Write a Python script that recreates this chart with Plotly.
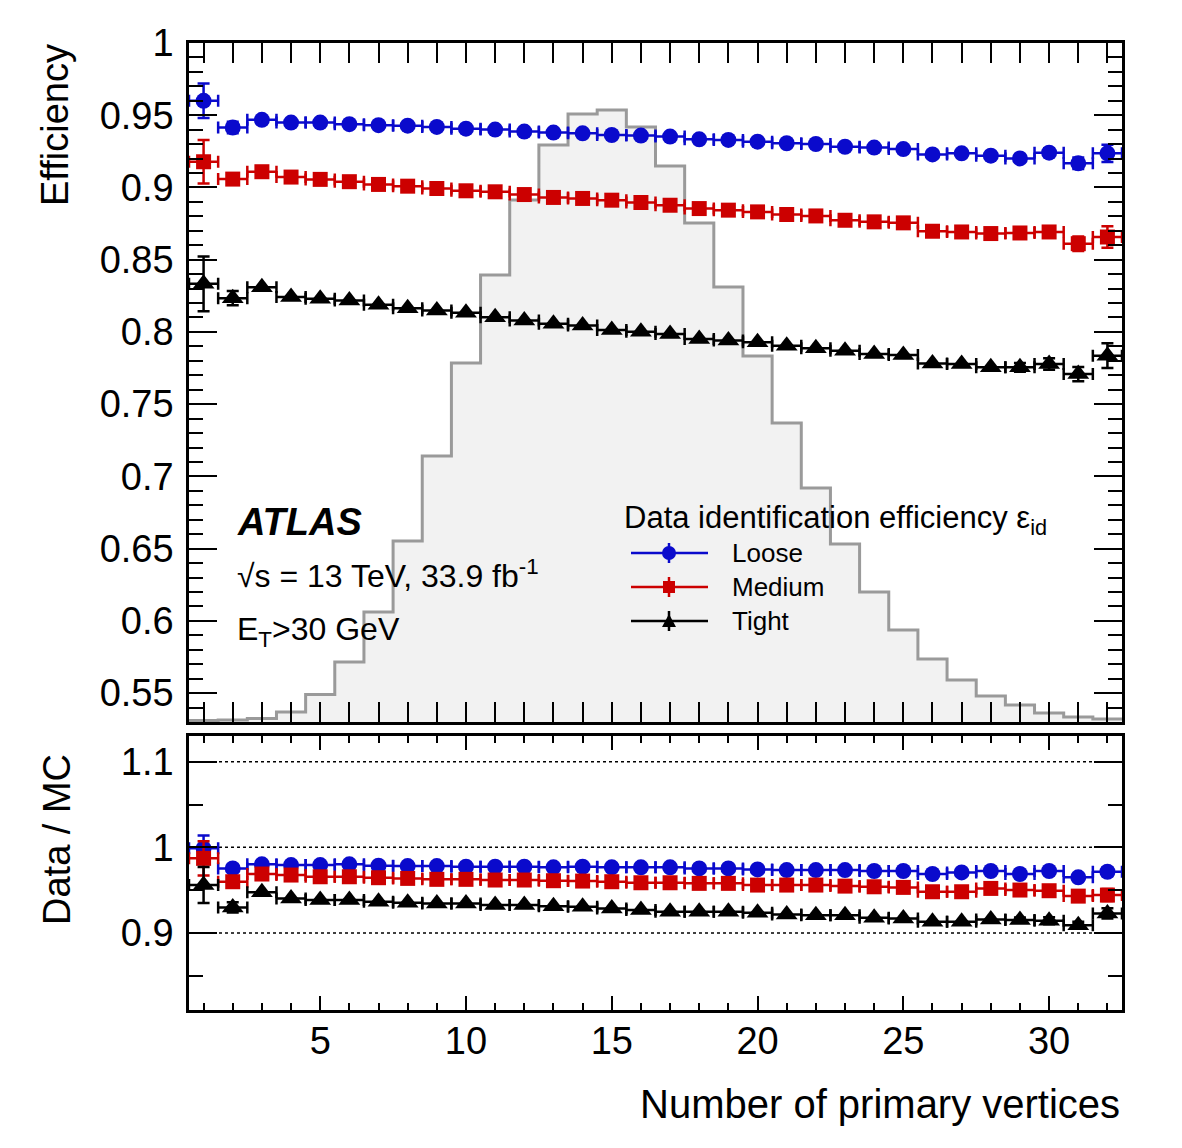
import plotly.graph_objects as go

# ---------------- data ----------------
n_vertices = list(range(1, 33))
bin_half_width = 0.5

eff_loose = [0.960, 0.9415, 0.9468, 0.9449, 0.9449, 0.9438, 0.9431, 0.9428, 0.9419, 0.9407,
             0.9401, 0.9387, 0.9380, 0.9375, 0.9363, 0.9359, 0.9352, 0.9333, 0.9329, 0.9317,
             0.9306, 0.9301, 0.9282, 0.9276, 0.9266, 0.9229, 0.9236, 0.9220, 0.9201, 0.9241,
             0.9167, 0.9236]
eff_loose_err = [0.012, 0.004, 0.0, 0.0, 0.0, 0.0, 0.0, 0.0, 0.0, 0.0,
                 0.0, 0.0, 0.0, 0.0, 0.0, 0.0, 0.0, 0.0, 0.0, 0.0,
                 0.0, 0.0, 0.0, 0.0, 0.0, 0.0, 0.0, 0.0, 0.0, 0.003,
                 0.004, 0.006]

eff_medium = [0.9178, 0.9058, 0.9109, 0.9072, 0.9056, 0.9040, 0.9021, 0.9009, 0.8993, 0.8977,
              0.8970, 0.8951, 0.8931, 0.8924, 0.8912, 0.8896, 0.8877, 0.8854, 0.8843, 0.8831,
              0.8813, 0.8803, 0.8773, 0.8762, 0.8755, 0.8697, 0.8692, 0.8681, 0.8685, 0.8692,
              0.8611, 0.8657]
eff_medium_err = [0.015, 0.004, 0.0, 0.0, 0.0, 0.0, 0.0, 0.0, 0.0, 0.0,
                  0.0, 0.0, 0.0, 0.0, 0.0, 0.0, 0.0, 0.0, 0.0, 0.0,
                  0.0, 0.0, 0.0, 0.0, 0.0, 0.0, 0.0, 0.0, 0.0, 0.003,
                  0.005, 0.0075]

eff_tight = [0.8333, 0.8234, 0.8310, 0.8241, 0.8229, 0.8218, 0.8188, 0.8164, 0.8148, 0.8132,
             0.8102, 0.8079, 0.8056, 0.8044, 0.8014, 0.8002, 0.7986, 0.7951, 0.7940, 0.7928,
             0.7905, 0.7887, 0.7870, 0.7847, 0.7840, 0.7782, 0.7778, 0.7755, 0.7755, 0.7778,
             0.7708, 0.7836]
eff_tight_err = [0.019, 0.005, 0.0, 0.0, 0.0, 0.0, 0.0, 0.0, 0.0, 0.0,
                 0.0, 0.0, 0.0, 0.0, 0.0, 0.0, 0.0, 0.0, 0.0, 0.0,
                 0.0, 0.0, 0.0, 0.0, 0.0, 0.0, 0.0, 0.0, 0.003, 0.004,
                 0.005, 0.0085]

ratio_loose = [0.9988, 0.9754, 0.9801, 0.9793, 0.9793, 0.9801, 0.9785, 0.9781, 0.9781, 0.9773,
               0.9773, 0.9773, 0.9766, 0.9773, 0.9766, 0.9766, 0.9766, 0.9754, 0.9754, 0.9742,
               0.9734, 0.9734, 0.9734, 0.9723, 0.9723, 0.9688, 0.9707, 0.9723, 0.9688, 0.9723,
               0.9649, 0.9715]
ratio_loose_err = [0.015, 0.004, 0.0, 0.0, 0.0, 0.0, 0.0, 0.0, 0.0, 0.0,
                   0.0, 0.0, 0.0, 0.0, 0.0, 0.0, 0.0, 0.0, 0.0, 0.0,
                   0.0, 0.0, 0.0, 0.0, 0.0, 0.0, 0.0, 0.0, 0.0, 0.003,
                   0.004, 0.005]

ratio_medium = [0.9871, 0.9598, 0.9688, 0.9676, 0.9656, 0.9656, 0.9645, 0.9637, 0.9626, 0.9626,
                0.9618, 0.9618, 0.9610, 0.9606, 0.9598, 0.9586, 0.9586, 0.9579, 0.9579, 0.9559,
                0.9559, 0.9559, 0.9547, 0.9539, 0.9532, 0.9481, 0.9481, 0.9520, 0.9501, 0.9493,
                0.9430, 0.9442]
ratio_medium_err = [0.020, 0.005, 0.0, 0.0, 0.0, 0.0, 0.0, 0.0, 0.0, 0.0,
                    0.0, 0.0, 0.0, 0.0, 0.0, 0.0, 0.0, 0.0, 0.0, 0.0,
                    0.0, 0.0, 0.0, 0.0, 0.0, 0.0, 0.0, 0.0, 0.0, 0.003,
                    0.005, 0.007]

ratio_tight = [0.9559, 0.9298, 0.9474, 0.9403, 0.9384, 0.9384, 0.9364, 0.9352, 0.9345, 0.9345,
               0.9325, 0.9325, 0.9313, 0.9305, 0.9286, 0.9267, 0.9247, 0.9247, 0.9247, 0.9235,
               0.9216, 0.9208, 0.9208, 0.9177, 0.9170, 0.9130, 0.9130, 0.9158, 0.9150, 0.9142,
               0.9091, 0.9228]
ratio_tight_err = [0.021, 0.006, 0.0, 0.0, 0.0, 0.0, 0.0, 0.0, 0.0, 0.0,
                   0.0, 0.0, 0.0, 0.0, 0.0, 0.0, 0.0, 0.0, 0.0, 0.0,
                   0.0, 0.0, 0.0, 0.0, 0.0, 0.0, 0.0, 0.0, 0.003, 0.004,
                   0.004, 0.006]

# pile-up distribution (fraction of events, %), arbitrary normalisation
vertex_distribution = [0.020, 0.027, 0.048, 0.136, 0.375, 0.818, 1.500, 2.468, 3.627, 4.895,
                       6.095, 7.118, 7.868, 8.291, 8.345, 8.113, 7.582, 6.804, 5.932, 4.991,
                       4.077, 3.191, 2.427, 1.773, 1.254, 0.859, 0.573, 0.355, 0.232, 0.123,
                       0.068, 0.041]
dist_axis_max = 9.26

series_names = ["Loose", "Medium", "Tight"]

x_tickvals = [5, 10, 15, 20, 25, 30]
x_ticktext = ["5", "10", "15", "20", "25", "30"]
eff_tickvals = [0.55, 0.6, 0.65, 0.7, 0.75, 0.8, 0.85, 0.9, 0.95, 1.0]
eff_ticktext = ["0.55", "0.6", "0.65", "0.7", "0.75", "0.8", "0.85", "0.9", "0.95", "1"]
ratio_tickvals = [0.9, 1.0, 1.1]
ratio_ticktext = ["0.9", "1", "1.1"]
ratio_reflines = [0.9, 1.0, 1.1]

# ---------------- style ----------------
FONT = "Liberation Sans, Arial, Helvetica, sans-serif"
colors = ["#0a0acc", "#cc0000", "#000000"]
symbols = ["circle", "square", "triangle-up"]
msizes = [16, 15, 19]

W, H = 1182, 1148
ML, MR, MT, MB = 189, 60, 43, 138
PW, PH = W - ML - MR, H - MT - MB
top_px, bottom_px_top = 722, 736


def px(x):
    return (x - ML) / PW


def py(y):
    return (H - MB - y) / PH


fig = go.Figure()

# distribution histogram (step outline, filled)
edges = [v - bin_half_width for v in n_vertices] + [n_vertices[-1] + bin_half_width]
fig.add_trace(go.Scatter(
    x=edges, y=vertex_distribution + [vertex_distribution[-1]],
    mode="lines", line=dict(shape="hv", color="#9a9a9a", width=3),
    fill="tozeroy", fillcolor="#f2f2f2",
    xaxis="x", yaxis="y", showlegend=False, hoverinfo="skip"))

eff_series = [(eff_loose, eff_loose_err), (eff_medium, eff_medium_err), (eff_tight, eff_tight_err)]
ratio_series = [(ratio_loose, ratio_loose_err), (ratio_medium, ratio_medium_err), (ratio_tight, ratio_tight_err)]

for i, name in enumerate(series_names):
    vals, errs = eff_series[i]
    fig.add_trace(go.Scatter(
        x=n_vertices, y=vals, mode="markers", name=name,
        marker=dict(symbol=symbols[i], size=msizes[i], color=colors[i], line=dict(width=0)),
        error_x=dict(type="constant", value=bin_half_width, color=colors[i], thickness=2.5, width=6),
        error_y=dict(type="data", array=errs, color=colors[i], thickness=2.5, width=6),
        xaxis="x", yaxis="y3", showlegend=False))
for i, name in enumerate(series_names):
    vals, errs = ratio_series[i]
    fig.add_trace(go.Scatter(
        x=n_vertices, y=vals, mode="markers", name=name,
        marker=dict(symbol=symbols[i], size=msizes[i], color=colors[i], line=dict(width=0)),
        error_x=dict(type="constant", value=bin_half_width, color=colors[i], thickness=2.5, width=6),
        error_y=dict(type="data", array=errs, color=colors[i], thickness=2.5, width=6),
        xaxis="x2", yaxis="y2", showlegend=False))

top_dom = [py(top_px), 1.0]
bot_dom = [0.0, py(bottom_px_top)]

axis_common = dict(showline=True, linecolor="black", linewidth=2.5, mirror="allticks",
                   ticks="inside", tickcolor="black", tickwidth=2, showgrid=False, zeroline=False,
                   tickfont=dict(family=FONT, size=38, color="black"))

fig.update_layout(
    width=W, height=H,
    margin=dict(l=ML, r=MR, t=MT, b=MB),
    paper_bgcolor="white", plot_bgcolor="white",
    font=dict(family=FONT, color="black"),
    showlegend=False,
    xaxis=dict(domain=[0, 1], anchor="y3", range=[0.5, 32.5], tickvals=x_tickvals,
               showticklabels=False, ticklen=20,
               minor=dict(ticks="inside", dtick=1, tick0=0, ticklen=10, tickwidth=2, tickcolor="black"),
               **axis_common),
    yaxis=dict(domain=top_dom, range=[0, dist_axis_max], visible=False, fixedrange=True),
    yaxis3=dict(overlaying="y", anchor="x", side="left", range=[0.53, 1.0],
                tickvals=eff_tickvals, ticktext=eff_ticktext, ticklen=28, ticklabelstandoff=5,
                minor=dict(ticks="inside", dtick=0.01, tick0=0, ticklen=14, tickwidth=2, tickcolor="black"),
                **axis_common),
    xaxis2=dict(domain=[0, 1], anchor="y2", matches="x", range=[0.5, 32.5],
                tickvals=x_tickvals, ticktext=x_ticktext, ticklen=14, ticklabelstandoff=-4,
                minor=dict(ticks="inside", dtick=1, tick0=0, ticklen=7, tickwidth=2, tickcolor="black"),
                **axis_common),
    yaxis2=dict(domain=bot_dom, anchor="x2", range=[0.81, 1.13],
                tickvals=ratio_tickvals, ticktext=ratio_ticktext, ticklen=28, ticklabelstandoff=5,
                minor=dict(ticks="inside", dtick=0.05, tick0=0, ticklen=14, tickwidth=2, tickcolor="black"),
                **axis_common),
)

# reference lines in the ratio panel
for v in ratio_reflines:
    fig.add_shape(type="line", xref="x2", yref="y2", x0=0.5, x1=32.5, y0=v, y1=v,
                  line=dict(color="black", width=1.5, dash="dot"), layer="below")


def note(text, x, y, size, xanchor="left", angle=0):
    fig.add_annotation(text=text, xref="paper", yref="paper", x=px(x), y=py(y),
                       xanchor=xanchor, yanchor="middle", textangle=angle, showarrow=False,
                       borderpad=0, font=dict(family=FONT, size=size, color="black"))


# axis titles
note("Efficiency", 55, 125, 38, xanchor="center", angle=-90)
note("Data / MC", 57, 840, 38, xanchor="center", angle=-90)
note("Number of primary vertices", 1121, 1104, 40, xanchor="right")

# ATLAS labels
note("<b><i>ATLAS</i></b>", 236, 522, 38)
note("√s = 13 TeV, 33.9 fb<sup>-1</sup>", 236, 574, 32)
note("E<sub>T</sub>>30 GeV", 236, 632, 32)

# legend (drawn manually)
note("Data identification efficiency ε<sub>id</sub>", 623, 520, 31)
leg_y = [553, 587, 621]
for i, name in enumerate(series_names):
    yy = py(leg_y[i])
    c = colors[i]
    fig.add_shape(type="line", xref="paper", yref="paper", x0=px(631), x1=px(708), y0=yy, y1=yy,
                  line=dict(color=c, width=2.5))
    fig.add_shape(type="line", xref="paper", yref="paper", x0=px(669), x1=px(669),
                  y0=py(leg_y[i] - 10), y1=py(leg_y[i] + 10), line=dict(color=c, width=2.5))
    if symbols[i] == "circle":
        fig.add_shape(type="circle", xref="paper", yref="paper", x0=px(662), x1=px(676),
                      y0=py(leg_y[i] - 7), y1=py(leg_y[i] + 7), fillcolor=c, line=dict(width=0))
    elif symbols[i] == "square":
        fig.add_shape(type="rect", xref="paper", yref="paper", x0=px(663), x1=px(675),
                      y0=py(leg_y[i] - 6), y1=py(leg_y[i] + 6), fillcolor=c, line=dict(width=0))
    else:
        path = "M {a},{b} L {c_},{d} L {e},{f} Z".format(
            a=px(662), b=py(leg_y[i] + 6), c_=px(676), d=py(leg_y[i] + 6), e=px(669), f=py(leg_y[i] - 7))
        fig.add_shape(type="path", xref="paper", yref="paper", path=path, fillcolor=c, line=dict(width=0))
    note(name, 731, leg_y[i], 26)

fig.write_html("out.html")
